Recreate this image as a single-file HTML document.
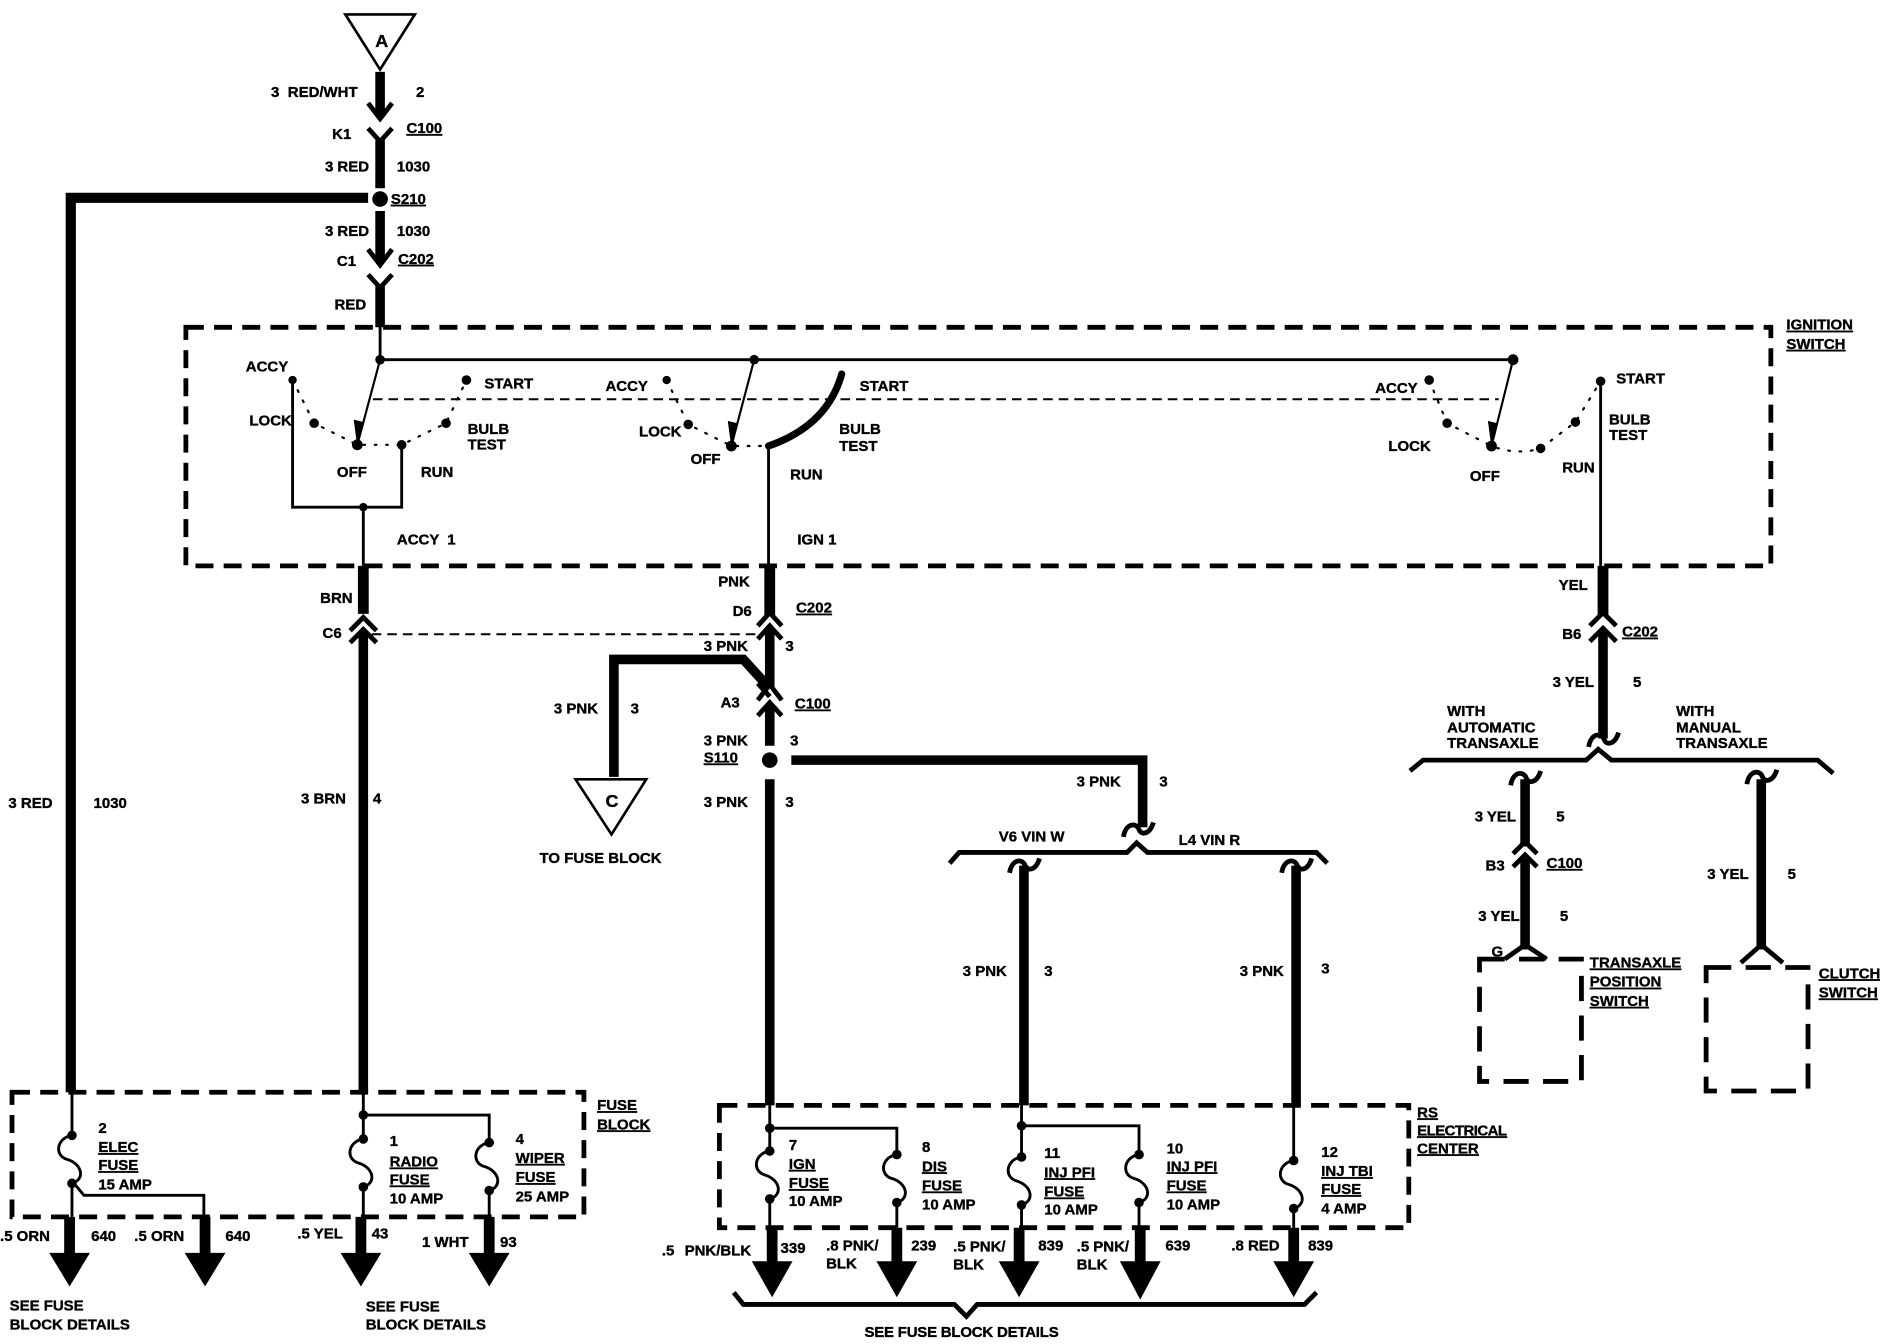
<!DOCTYPE html>
<html><head><meta charset="utf-8"><style>
html,body{margin:0;padding:0;background:#fff;width:1880px;height:1344px;overflow:hidden}
svg{display:block}
text{font-family:"Liberation Sans",sans-serif;font-weight:bold;font-size:12.5px;fill:#000;stroke:#000;stroke-width:.3}
.u{text-decoration:underline}
.w{fill:none;stroke:#000;stroke-linejoin:miter}
.t8{stroke-width:8}.t9{stroke-width:9}.t4{stroke-width:4}.t2{stroke-width:2.4}
.d{fill:none;stroke:#000;stroke-width:4;stroke-dasharray:15 8.5}
.dd{fill:none;stroke:#000;stroke-width:1.6;stroke-dasharray:8 5}
.dot{fill:none;stroke:#000;stroke-width:1.8;stroke-dasharray:1.5 8;stroke-linecap:round}
</style></head><body>
<svg width="1880" height="1344" viewBox="0 0 1568 1121" xmlns="http://www.w3.org/2000/svg">
<rect width="1568" height="1121" fill="#fff"/>
<defs>
<g id="fuse"><path d="M0 0C-13 2-15 17-4 20C9 24 11 37 0 40" fill="none" stroke="#000" stroke-width="2.4"/><circle r="4"/><circle cy="40" r="4"/></g>
<path id="tilde" d="M-12 6C-10-6 -1-6 1 0C3 5 10 4 13-6" fill="none" stroke="#000" stroke-width="4"/>
</defs>

<!-- triangles -->
<path d="M288 12H346L317 58Z" fill="none" stroke="#000" stroke-width="2.2"/>
<path d="M480 650H539L510 696Z" fill="none" stroke="#000" stroke-width="2.2"/>

<!-- dashed boxes -->
<rect x="155" y="273" width="1322" height="199" class="d"/>
<rect x="10" y="911" width="477" height="104" class="d"/>
<rect x="600" y="922" width="575" height="102" class="d"/>
<rect x="1234" y="800" width="85" height="102" class="d" style="stroke-dasharray:21 12"/>
<rect x="1423" y="807" width="85" height="103" class="d" style="stroke-dasharray:21 12"/>

<!-- top feed -->
<path class="w t8" d="M317 60V96M317 117V157M317 176V218M317 239V273"/>
<path class="w t4" d="M307 86L317 99L327 86M307 107L317 118L327 107M307 208L317 221L327 208M307 229L317 240L327 229"/>
<circle cx="317" cy="166" r="6.5"/>
<path class="w t8" d="M307 165H59V911" style="stroke-width:8.5"/>

<!-- ignition bus -->
<path class="w t2" d="M317 272V300H1262"/>
<circle cx="317" cy="300" r="4"/><circle cx="629" cy="300" r="4"/><circle cx="1262" cy="300" r="4.5"/>
<path class="dd" d="M311 333H1250"/>

<!-- switch 1 -->
<path class="dot" d="M244 317L262 353L298 371H335L372 353L389 317"/>
<circle cx="244" cy="317" r="3.5"/><circle cx="262" cy="353" r="4"/><circle cx="298" cy="371" r="4.5"/><circle cx="335" cy="371" r="4"/><circle cx="372" cy="353" r="4"/><circle cx="389" cy="317" r="4"/>
<path class="w" stroke-width="1.8" d="M317 300L298 371"/><path d="M298 373L295 350L303 352Z"/>
<path class="w t2" d="M244 317V423H335V371M303 423V472"/>
<circle cx="303" cy="423" r="3.5"/>

<!-- switch 2 -->
<path class="dot" d="M556 317L574 354L610 372H641"/>
<circle cx="556" cy="317" r="3.5"/><circle cx="574" cy="354" r="4"/><circle cx="610" cy="372" r="4.5"/>
<path class="w" stroke-width="1.8" d="M629 300L610 372"/><path d="M610 374L607 351L615 353Z"/>
<path d="M641 372Q690 355 702 312" fill="none" stroke="#000" stroke-width="6" stroke-linecap="round"/>
<path class="w t2" d="M641 372V472"/>

<!-- switch 3 -->
<path class="dot" d="M1192 317L1207 353L1244 372Q1265 380 1285 374L1314 352L1335 318"/>
<circle cx="1192" cy="317" r="4"/><circle cx="1207" cy="353" r="4"/><circle cx="1244" cy="372" r="4.5"/><circle cx="1285" cy="374" r="4"/><circle cx="1314" cy="352" r="4"/><circle cx="1335" cy="318" r="4"/>
<path class="w" stroke-width="1.8" d="M1262 300L1244 372"/><path d="M1244 374L1241 351L1249 353Z"/>
<path class="w t2" d="M1335 318V472"/>

<!-- accy wire -->
<path class="w t9" d="M303 472V512"/>
<path class="w t4" d="M292 526L303 515L314 526M292 536L303 525L314 536"/>
<path class="w t8" d="M303 527V911"/>
<path class="dd" d="M310 529H632"/>

<!-- ign wire -->
<path class="w t9" d="M642 472V513"/>
<path class="w t4" d="M632 522L642 511L652 522M632 533L642 522L652 533"/>
<path class="w t8" d="M642 524V573"/>
<path class="w t8" d="M512 648V550H620L640 572"/>
<path class="w t4" d="M632 584L642 571L652 584M632 570L642 581M632 597L642 586L652 597"/>
<path class="w t8" d="M642 589V622M642 650V922"/>
<circle cx="642" cy="634" r="6.5"/>
<path class="w t8" d="M660 634H953V690"/>
<use href="#tilde" x="949" y="692"/>
<path class="w t4" d="M792 720L800 711H940L948 703L957 711H1098L1107 720"/>
<use href="#tilde" x="854" y="722"/>
<use href="#tilde" x="1081" y="722"/>
<path class="w t8" d="M854 722V922M1081 722V922"/>

<!-- right side -->
<path class="w t9" d="M1337 472V513"/>
<path class="w t4" d="M1326 522L1337 511L1348 522M1326 535L1337 524L1348 535"/>
<path class="w t8" d="M1337 526V616"/>
<use href="#tilde" x="1337" y="617"/>
<path class="w t4" d="M1176 643L1187 634H1323L1333 625L1344 634H1516L1529 645"/>
<use href="#tilde" x="1272" y="649"/>
<use href="#tilde" x="1469" y="648"/>
<path class="w t8" d="M1272 650V706M1272 716V792M1469 650V792"/>
<path class="w t4" d="M1262 712L1272 702L1282 712M1262 723L1272 713L1282 723M1255 800L1272 788L1290 800M1452 803L1469 788L1487 803"/>

<!-- fuse block -->
<path class="w t2" d="M60 911V948M60 988V1015M60 985L70 997H170V1015M303 911V953M303 930H408V955M303 993V1015M408 995V1015"/>
<circle cx="303" cy="930" r="4"/>
<use href="#fuse" x="60" y="947"/><use href="#fuse" x="303" y="950"/><use href="#fuse" x="408" y="953"/>
<path class="w t9" d="M58 1015V1046M171 1015V1046M301 1015V1046M408 1015V1046"/>
<path d="M41 1045H75L58 1073ZM154 1045H188L171 1073ZM284 1045H318L301 1073ZM391 1045H425L408 1073Z"/>

<!-- RS center -->
<path class="w t2" d="M642 922V962M642 941H748V965M642 1000V1024M748 1003V1024M852 922V965M852 939H950V965M852 1005V1024M950 1003V1024M1079 922V968M1079 1008V1024"/>
<circle cx="642" cy="941" r="4"/><circle cx="852" cy="939" r="4"/>
<use href="#fuse" x="642" y="960"/><use href="#fuse" x="748" y="963"/><use href="#fuse" x="852" y="965"/><use href="#fuse" x="950" y="963"/><use href="#fuse" x="1079" y="968"/>
<path class="w t9" d="M644 1024V1053M748 1024V1053M850 1024V1053M951 1024V1053M1079 1024V1053"/>
<path d="M627 1052H661L644 1082ZM731 1052H765L748 1082ZM833 1052H867L850 1082ZM934 1052H968L951 1084ZM1062 1052H1096L1079 1082Z"/>
<path class="w t4" d="M612 1078L620 1088H796L806 1098L815 1088H1088L1098 1078"/>

<!-- labels -->
<text x="313" y="39" style="font-size:15px">A</text>
<text x="505" y="673" style="font-size:15px">C</text>
<text x="226" y="81">3</text><text x="240" y="81">RED/WHT</text><text x="347" y="81">2</text>
<text x="277" y="116">K1</text><text x="339" y="111" class="u">C100</text>
<text x="271" y="143">3 RED</text><text x="331" y="143">1030</text>
<text x="326" y="170" class="u">S210</text>
<text x="271" y="197">3 RED</text><text x="331" y="197">1030</text>
<text x="281" y="222">C1</text><text x="332" y="220" class="u">C202</text>
<text x="279" y="258">RED</text>
<text x="1490" y="275" class="u">IGNITION</text><text x="1490" y="291" class="u">SWITCH</text>

<text x="205" y="310">ACCY</text><text x="208" y="355">LOCK</text><text x="404" y="324">START</text><text x="390" y="362">BULB</text><text x="390" y="375">TEST</text><text x="281" y="398">OFF</text><text x="351" y="398">RUN</text>
<text x="505" y="326">ACCY</text><text x="533" y="364">LOCK</text><text x="576" y="387">OFF</text><text x="717" y="326">START</text><text x="700" y="362">BULB</text><text x="700" y="376">TEST</text><text x="659" y="400">RUN</text>
<text x="1147" y="328">ACCY</text><text x="1158" y="376">LOCK</text><text x="1226" y="401">OFF</text><text x="1348" y="320">START</text><text x="1342" y="354">BULB</text><text x="1342" y="367">TEST</text><text x="1303" y="394">RUN</text>
<text x="331" y="454">ACCY</text><text x="373" y="454">1</text><text x="665" y="454">IGN 1</text>

<text x="267" y="503">BRN</text><text x="269" y="532">C6</text>
<text x="599" y="489">PNK</text><text x="611" y="514">D6</text><text x="664" y="511" class="u">C202</text>
<text x="587" y="543">3 PNK</text><text x="655" y="543">3</text>
<text x="462" y="595">3 PNK</text><text x="526" y="595">3</text>
<text x="601" y="590">A3</text><text x="663" y="591" class="u">C100</text>
<text x="587" y="622">3 PNK</text><text x="659" y="622">3</text><text x="587" y="636" class="u">S110</text>
<text x="587" y="673">3 PNK</text><text x="655" y="673">3</text>
<text x="898" y="656">3 PNK</text><text x="967" y="656">3</text>
<text x="833" y="702">V6 VIN W</text><text x="983" y="705">L4 VIN R</text>
<text x="450" y="720">TO FUSE BLOCK</text>
<text x="7" y="674">3 RED</text><text x="78" y="674">1030</text>
<text x="251" y="670">3 BRN</text><text x="311" y="670">4</text>
<text x="803" y="814">3 PNK</text><text x="871" y="814">3</text>
<text x="1034" y="814">3 PNK</text><text x="1102" y="812">3</text>

<text x="1300" y="492">YEL</text><text x="1303" y="533">B6</text><text x="1353" y="531" class="u">C202</text>
<text x="1295" y="573">3 YEL</text><text x="1362" y="573">5</text>
<text x="1207" y="597">WITH</text><text x="1207" y="611">AUTOMATIC</text><text x="1207" y="624">TRANSAXLE</text>
<text x="1398" y="597">WITH</text><text x="1398" y="611">MANUAL</text><text x="1398" y="624">TRANSAXLE</text>
<text x="1230" y="685">3 YEL</text><text x="1298" y="685">5</text>
<text x="1239" y="726">B3</text><text x="1290" y="724" class="u">C100</text>
<text x="1233" y="768">3 YEL</text><text x="1301" y="768">5</text>
<text x="1244" y="798">G</text>
<text x="1424" y="733">3 YEL</text><text x="1491" y="733">5</text>
<text x="1326" y="807" class="u">TRANSAXLE</text><text x="1326" y="823" class="u">POSITION</text><text x="1326" y="839" class="u">SWITCH</text>
<text x="1517" y="816" class="u">CLUTCH</text><text x="1517" y="832" class="u">SWITCH</text>

<text x="498" y="926" class="u">FUSE</text><text x="498" y="942" class="u">BLOCK</text>
<text x="82" y="945">2</text><text x="82" y="961" class="u">ELEC</text><text x="82" y="976" class="u">FUSE</text><text x="82" y="992">15 AMP</text>
<text x="325" y="956">1</text><text x="325" y="973" class="u">RADIO</text><text x="325" y="988" class="u">FUSE</text><text x="325" y="1004">10 AMP</text>
<text x="430" y="954">4</text><text x="430" y="970" class="u">WIPER</text><text x="430" y="986" class="u">FUSE</text><text x="430" y="1002">25 AMP</text>
<text x="0" y="1035">.5 ORN</text><text x="76" y="1035">640</text><text x="112" y="1035">.5 ORN</text><text x="188" y="1035">640</text>
<text x="248" y="1033">.5 YEL</text><text x="310" y="1033">43</text><text x="352" y="1040">1 WHT</text><text x="417" y="1040">93</text>
<text x="8" y="1093">SEE FUSE</text><text x="8" y="1109">BLOCK DETAILS</text>
<text x="305" y="1094">SEE FUSE</text><text x="305" y="1109">BLOCK DETAILS</text>

<text x="1182" y="932" class="u">RS</text><text x="1182" y="947" class="u" textLength="75">ELECTRICAL</text><text x="1182" y="962" class="u">CENTER</text>
<text x="658" y="959">7</text><text x="658" y="975" class="u">IGN</text><text x="658" y="991" class="u">FUSE</text><text x="658" y="1006">10 AMP</text>
<text x="769" y="961">8</text><text x="769" y="977" class="u">DIS</text><text x="769" y="993" class="u">FUSE</text><text x="769" y="1009">10 AMP</text>
<text x="871" y="966">11</text><text x="871" y="982" class="u">INJ PFI</text><text x="871" y="998" class="u">FUSE</text><text x="871" y="1013">10 AMP</text>
<text x="973" y="962">10</text><text x="973" y="977" class="u">INJ PFI</text><text x="973" y="993" class="u">FUSE</text><text x="973" y="1009">10 AMP</text>
<text x="1102" y="965">12</text><text x="1102" y="981" class="u">INJ TBI</text><text x="1102" y="996" class="u">FUSE</text><text x="1102" y="1012">4 AMP</text>
<text x="552" y="1047">.5</text><text x="571" y="1047">PNK/BLK</text><text x="651" y="1045">339</text>
<text x="689" y="1043">.8 PNK/</text><text x="689" y="1058">BLK</text><text x="760" y="1043">239</text>
<text x="795" y="1044">.5 PNK/</text><text x="795" y="1059">BLK</text><text x="866" y="1043">839</text>
<text x="898" y="1044">.5 PNK/</text><text x="898" y="1059">BLK</text><text x="972" y="1043">639</text>
<text x="1027" y="1043">.8 RED</text><text x="1091" y="1043">839</text>
<text x="721" y="1115" textLength="162">SEE FUSE BLOCK DETAILS</text>
</svg>
</body></html>
